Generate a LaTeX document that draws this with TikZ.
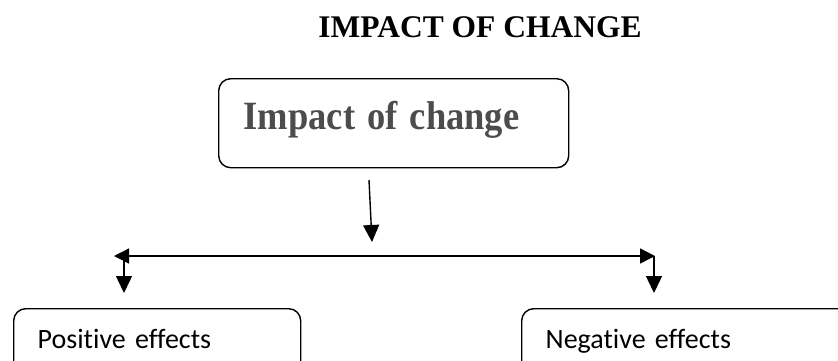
\documentclass[tikz,border=0pt]{standalone}
\usepackage{fontspec}
\setmainfont{Liberation Serif}
\newfontfamily\calib[Ligatures=NoCommon]{Carlito}
\usetikzlibrary{arrows.meta}
\tikzset{
  conn/.style={line width=1.4pt, -{Triangle[length=17pt,width=16pt]}},
  bigbox/.style={draw, line width=1.4pt, rounded corners=12pt, anchor=north west,
    inner xsep=25pt, inner ysep=0pt, align=left},
  effbox/.style={draw, line width=1.4pt, rounded corners=12pt, anchor=north west,
    inner xsep=24pt, inner ysep=0pt, align=left, text height=40pt, text depth=40pt,
    font=\calib\fontsize{28}{32}\selectfont}
}
\begin{document}
\begin{tikzpicture}[x=1pt,y=-1pt]
\clip (0,0) rectangle (838,360);
\node[anchor=base, font=\fontsize{31.5}{36}\selectfont\bfseries] (title) at (480,37) {IMPACT OF CHANGE};
\node[bigbox, text width=300pt, text height=51pt, text depth=38pt,
  font=\fontsize{36.5}{40}\selectfont\bfseries, text=black!70] (main) at (218,78) {\scalebox{1}[1.1]{Impact of change}};
\node[effbox, text width=239pt] (pos) at (13,308) {Positive effects};
\node[effbox, text width=300pt] (neg) at (521,308) {Negative effects};
\coordinate (a1) at (369,180);
\coordinate (a2) at (372,242);
\coordinate (hl) at (114,256);
\coordinate (hr) at (655,256);
\coordinate (dl) at (124,256);
\coordinate (dr) at (654,256);
\draw[conn] (a1) -- (a2);
\draw[line width=1.4pt, {Triangle[length=15pt,width=15pt]}-{Triangle[length=15pt,width=15pt]}] (hl) -- (hr);
\draw[conn] (dl) -- ([yshift=15pt]pos.north -| dl);
\draw[conn] (dr) -- ([yshift=15pt]neg.north -| dr);
\end{tikzpicture}
\end{document}
